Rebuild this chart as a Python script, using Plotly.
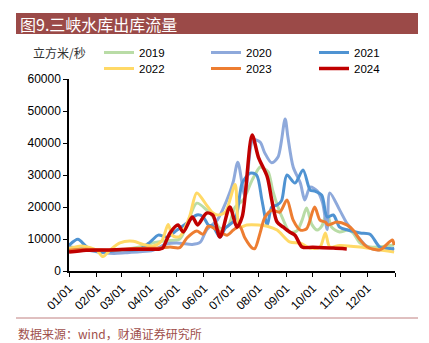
import plotly.graph_objects as go

BASE_YEAR = "2023"

# ---- data (month-day, 立方米/秒) ----
d2019 = ["01-01","01-20","02-05","02-27","03-21","04-05","04-20","05-05","05-13","05-24","06-04","06-11","06-19","06-28",
         "07-06","07-15","07-25","08-03","08-06","08-12","08-17","08-23","08-29","09-05","09-13","09-19","09-24","09-30",
         "10-06","10-11","10-17","10-22","10-31","11-09","11-15","11-23","12-04","12-23","12-31"]
v2019 = [7500,7000,6000,6500,7500,8800,9500,10000,14400,21200,19100,17000,13400,14000,
         20000,22200,28400,32500,32200,31000,25300,20000,15900,12200,12500,15900,19700,14500,
         12800,14000,18100,13700,12200,12800,11900,8700,7500,7800,8100]

d2020 = ["01-01","01-15","02-01","02-20","03-05","03-21","04-05","04-21","05-05","05-19","05-28","06-04","06-16","06-22",
         "06-30","07-04","07-09","07-17","07-26","08-03","08-08","08-16","08-23","08-31","09-03","09-09","09-17","09-22",
         "09-28","10-06","10-12","10-17","10-20","10-31","11-08","11-19","12-01","12-12","12-26","12-31"]
v2020 = [7500,7000,6000,5500,5700,6000,6500,8500,8700,8300,9000,12800,15900,19100,
         24500,28000,34000,23500,41000,40300,37000,33800,35600,47500,42000,32500,27500,22200,
         26200,25000,21200,13000,24400,19100,15000,11200,7500,6600,7000,6600]

d2021 = ["01-01","01-11","01-21","02-05","02-27","03-21","04-02","04-11","04-21","05-02","05-13","05-24","05-31","06-06",
         "06-11","06-19","06-25","07-06","07-14","07-23","07-30","08-05","08-11","08-16","08-22","08-27","09-02","09-11",
         "09-20","09-28","10-03","10-11","10-17","10-24","10-31","11-09","11-23","12-04","12-15","12-26","12-31"]
v2021 = [8000,9900,7500,5900,6600,6800,9100,11200,10600,12800,15000,17500,17000,14400,
         14000,10600,13400,16000,27500,30600,30000,22200,14400,20000,20600,22000,30000,27500,
         31600,25300,25000,23700,16900,17500,13700,12800,11900,11500,7500,7000,7000]

d2022 = ["01-01","01-15","02-01","02-08","02-16","02-27","03-14","03-25","04-05","04-15","04-22","04-27","05-05","05-16",
         "05-24","06-04","06-10","06-16","06-25","07-06","07-11","07-19","08-01","08-11","08-22","09-05","09-17","09-28",
         "10-09","10-15","10-20","10-31","11-23","12-31"]
v2022 = [7000,7800,6500,4500,6500,8800,9300,8300,7800,9500,14500,11000,10800,17000,
         24400,20600,18400,17500,18400,27000,13700,14400,14400,14000,12800,9100,8700,7200,
         7500,11900,7500,8000,7500,5900]

d2023 = ["01-01","01-20","02-15","03-15","04-13","04-24","05-05","05-13","05-24","05-31","06-06","06-15","06-27","07-04",
         "07-11","07-17","07-25","07-28","08-03","08-08","08-16","08-25","09-02","09-09","09-17","09-24","10-03","10-09",
         "10-15","10-18","10-28","11-08","11-15","11-23","12-01","12-15","12-29","12-31"]
v2023 = [6500,6800,6500,7000,7200,7500,7300,10300,12500,11500,14000,13000,11200,12800,
         14000,10300,7200,7000,11900,16600,19000,18400,22200,15900,12800,13200,20000,15900,
         15300,14400,15300,14400,12800,9700,7500,6600,9700,8100]

d2024 = ["01-01","01-20","02-15","03-15","04-13","04-16","04-24","05-03","05-09","05-19","05-25","06-04","06-11","06-19",
         "06-30","07-08","07-14","07-25","08-01","08-11","08-16","08-22","08-29","09-05","09-11","09-19","10-01","10-24","11-08"]
v2024 = [5900,6500,6600,6800,6900,7200,11900,14400,12200,16900,14400,18100,17500,10600,
         20000,13700,17000,42500,35600,29400,22200,15300,13700,12200,11200,7500,7400,7200,6900]

series_names = ["2019", "2020", "2021", "2022", "2023", "2024"]
series_dates = [d2019, d2020, d2021, d2022, d2023, d2024]
series_vals = [v2019, v2020, v2021, v2022, v2023, v2024]
colors = ["#B9DCA6", "#8EA9DB", "#4F93D2", "#FFD966", "#ED7D31", "#C00000"]
widths = [3, 3, 3, 3, 3, 3.5]

month_ticks = ["01/01","02/01","03/01","04/01","05/01","06/01","07/01","08/01","09/01","10/01","11/01","12/01",""]
tick_dates = [f"{BASE_YEAR}-{m:02d}-01" for m in range(1, 13)] + ["2024-01-01"]

L, R, T, B = 69, 34, 79, 72
W, H = 429, 343
pw, ph = W - L - R, H - T - B
def px(x):
    return (x - L) / pw
def py(y):
    return (H - B - y) / ph

# legend slots: 3 columns x 2 rows
leg_cols = [99, 206, 314]
leg_rows = [38, 54]

fig = go.Figure()
legends = {}
for i, (name, d, v, col, w) in enumerate(zip(series_names, series_dates, series_vals, colors, widths)):
    key = "legend" if i == 0 else f"legend{i+1}"
    fig.add_trace(go.Scatter(
        x=[f"{BASE_YEAR}-{s}" for s in d], y=v, name=name, mode="lines",
        line=dict(color=col, width=w, shape="spline", smoothing=0.8),
        legend=key,
    ))
    legends[key] = dict(x=px(leg_cols[i % 3]), y=py(leg_rows[i // 3]), xanchor="left", yanchor="top",
                        font=dict(size=11.5), bgcolor="rgba(0,0,0,0)")

fig.update_layout(
    width=W, height=H,
    margin=dict(l=L, r=R, t=T, b=B),
    paper_bgcolor="white", plot_bgcolor="white",
    font=dict(family="Liberation Sans, Arial", size=11, color="black"),
    showlegend=True,
    **legends,
    xaxis=dict(type="date", range=[f"{BASE_YEAR}-01-01", "2024-01-01"],
               tickvals=tick_dates, ticktext=month_ticks, tickangle=-45,
               showline=True, linecolor="black", linewidth=1.5, ticks="outside",
               ticklen=4, tickcolor="black", showgrid=False, zeroline=False,
               tickfont=dict(size=12)),
    yaxis=dict(range=[0, 60000], dtick=10000, tickformat="d",
               showline=True, linecolor="black", linewidth=1.5, ticks="outside",
               ticklen=4, tickcolor="black", showgrid=False, zeroline=False,
               tickfont=dict(size=12)),
    shapes=[
        dict(type="rect", xref="paper", yref="paper", x0=px(16), x1=px(418), y0=py(34), y1=py(13),
             fillcolor="#9B4A48", line=dict(width=0), layer="below"),
        dict(type="line", xref="paper", yref="paper", x0=px(16), x1=px(418), y0=py(318), y1=py(318),
             line=dict(color="#C08080", width=1)),
    ],
    annotations=[
        dict(text="图9.三峡水库出库流量", xref="paper", yref="paper", x=px(18), y=py(23.5),
             xanchor="left", yanchor="middle", showarrow=False,
             font=dict(family="Noto Sans CJK SC", size=16, color="white")),
        dict(text="立方米/秒", xref="paper", yref="paper", x=px(31), y=py(52),
             xanchor="left", yanchor="middle", showarrow=False,
             font=dict(family="Noto Sans CJK SC", size=12, color="#333333")),
        dict(text="数据来源：wind，财通证券研究所", xref="paper", yref="paper", x=px(16), y=py(333),
             xanchor="left", yanchor="middle", showarrow=False,
             font=dict(family="Noto Sans CJK SC", size=12, color="#A0504C")),
    ],
)

fig.write_html("out.html")
